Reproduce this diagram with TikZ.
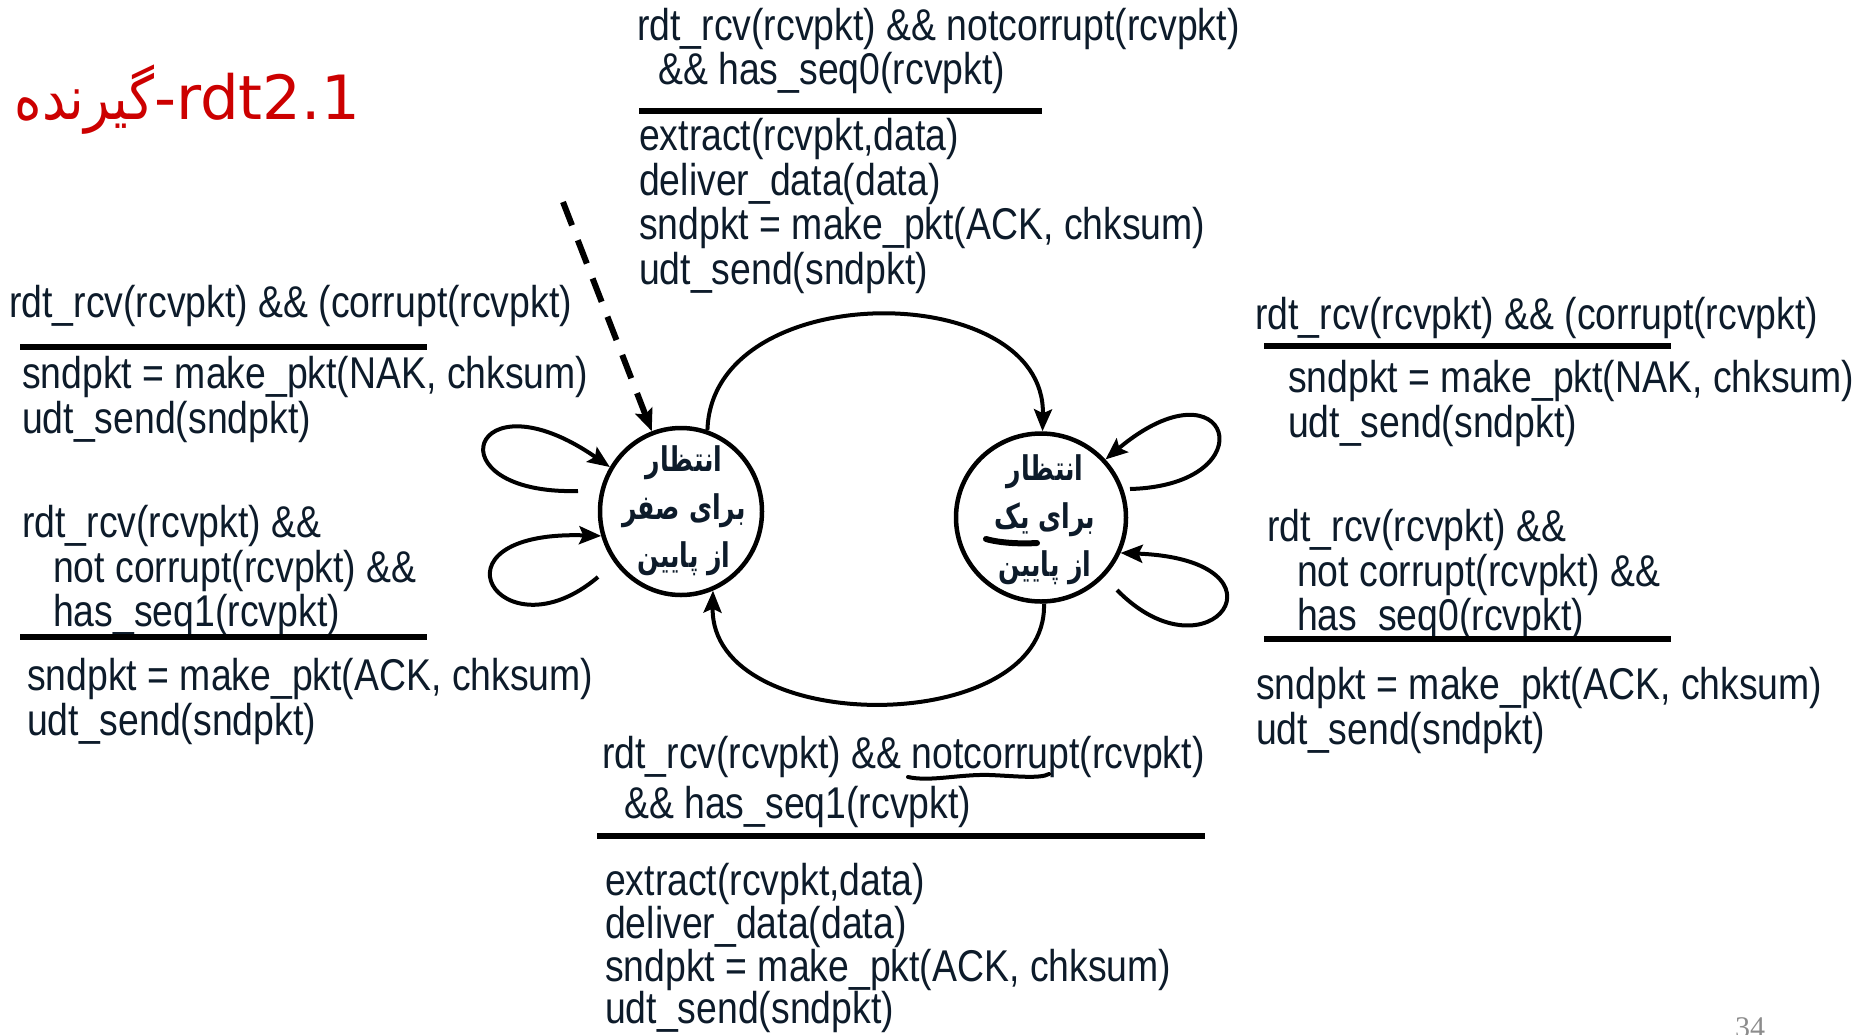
\documentclass[tikz,border=0pt]{standalone}
\usepackage{fontspec}
\setmainfont{Liberation Sans}[FakeStretch=0.84]
\newfontfamily\titlearabic[Script=Arabic,FakeStretch=0.86]{DejaVu Sans}
\newfontfamily\statefont[Script=Arabic,FakeStretch=0.74]{DejaVu Sans}
\newfontfamily\titlefont{DejaVu Sans}
\newfontfamily\pagefont{Liberation Serif}
\TeXXeTstate=1
\usetikzlibrary{arrows.meta,shapes.geometric}

\definecolor{ink}{RGB}{13,27,42}
\definecolor{titlered}{RGB}{204,0,0}
\definecolor{pagegray}{RGB}{140,140,140}

\tikzset{
  lbl/.style={anchor=base west, inner sep=0pt, text=ink, yshift=-3pt,
    font=\fontsize{44.5}{44.6}\selectfont},
  bar/.style={line width=6pt},
  state/.style={draw, ellipse, line width=4.5pt, inner sep=0pt},
  statetext/.style={align=center, inner sep=0pt, text=ink,
    font=\statefont\bfseries\fontsize{34}{48}\selectfont},
  edge/.style={line width=4pt, -{Stealth[length=22pt,width=18pt,inset=4pt]}},
  initedge/.style={line width=6pt, dash pattern=on 25pt off 16pt,
    -{Stealth[length=22pt,width=18pt,inset=4pt]}},
  handmark/.style={line width=6pt, line cap=round}
}

\begin{document}
\begin{tikzpicture}[x=1pt,y=-1pt]
\fill[white] (0,0) rectangle (1856,1034);
\useasboundingbox (0,0) rectangle (1856,1034);

% title
\node[anchor=base east, inner sep=0pt, text=titlered] (title) at (360,119)
  {{\titlearabic\fontsize{61}{61}\selectfont\beginR گیرنده\endR}{\titlefont\fontsize{61}{61}\selectfont -rdt2.1}};

% states
\node[state, minimum width=162pt, minimum height=167pt] (s0) at (681,511.5) {};
\node[state, minimum width=170pt, minimum height=168pt] (s1) at (1041,517.5) {};
\node[statetext] (s0t) at (684,511)
  {\beginR انتظار\endR\\ \beginR برای صفر\endR\\ \beginR از پایین\endR};
\node[statetext] (s1t) at (1045,520)
  {\beginR انتظار\endR\\ \beginR برای یک\endR\\ \beginR از پایین\endR};

% hand-drawn mark under the second line of s1
\draw[handmark] (986,539) .. controls (1000,543) and (1020,544) .. (1037,543);

% initial transition
\coordinate (init) at (563,202);
\draw[initedge] (init) -- (s0.110);

% s0 <-> s1
\draw[edge] (s0.72) .. controls (712,276) and (1046,278) .. (s1.89);
\draw[edge] (s1.-88) .. controls (1048,738) and (710,738) .. (s0.-68);

% self loops
\coordinate (l0a) at (578,491);
\coordinate (l0b) at (598,577);
\coordinate (l1a) at (1130,489);
\coordinate (l1b) at (1117,590);
\draw[edge] (l0a) .. controls (430,495) and (470,370) .. (s0.148);
\draw[edge] (l0b) .. controls (500,660) and (420,530) .. (s0.197);
\draw[edge] (l1a) .. controls (1270,485) and (1230,355) .. (s1.42);
\draw[edge] (l1b) .. controls (1210,685) and (1300,560) .. (s1.-24);

% top label: s0 -> s1
\node[lbl] (ta) at (637,37) {rdt\_rcv(rcvpkt) \&\& notcorrupt(rcvpkt)};
\node[lbl] (tb) at (658,81) {\&\& has\_seq0(rcvpkt)};
\draw[bar] (639,111) -- (1042,111);
\node[lbl] (tc) at (639,147) {extract(rcvpkt,data)};
\node[lbl] (td) at (639,192) {deliver\_data(data)};
\node[lbl] (te) at (639,236) {sndpkt = make\_pkt(ACK, chksum)};
\node[lbl] (tf) at (639,281) {udt\_send(sndpkt)};

% left upper loop label
\node[lbl] (la) at (9,314) {rdt\_rcv(rcvpkt) \&\& (corrupt(rcvpkt)};
\draw[bar] (20,347) -- (427,347);
\node[lbl] (lb) at (22,385) {sndpkt = make\_pkt(NAK, chksum)};
\node[lbl] (lc) at (22,430) {udt\_send(sndpkt)};

% left lower loop label
\node[lbl] (ld) at (22,534) {rdt\_rcv(rcvpkt) \&\&};
\node[lbl] (le) at (53,579) {not corrupt(rcvpkt) \&\&};
\node[lbl] (lf) at (53,623) {has\_seq1(rcvpkt)};
\draw[bar] (20,637) -- (427,637);
\node[lbl] (lg) at (27,687) {sndpkt = make\_pkt(ACK, chksum)};
\node[lbl] (lh) at (27,732) {udt\_send(sndpkt)};

% right upper loop label
\node[lbl] (ra) at (1255,326) {rdt\_rcv(rcvpkt) \&\& (corrupt(rcvpkt)};
\draw[bar] (1264,346) -- (1671,346);
\node[lbl] (rb) at (1288,389) {sndpkt = make\_pkt(NAK, chksum)};
\node[lbl] (rc) at (1288,434) {udt\_send(sndpkt)};

% right lower loop label
\node[lbl] (rd) at (1267,538) {rdt\_rcv(rcvpkt) \&\&};
\node[lbl] (re) at (1297,583) {not corrupt(rcvpkt) \&\&};
\node[lbl] (rf) at (1297,627) {has\_seq0(rcvpkt)};
\draw[bar] (1264,639) -- (1671,639);
\node[lbl] (rg) at (1256,696) {sndpkt = make\_pkt(ACK, chksum)};
\node[lbl] (rh) at (1256,741) {udt\_send(sndpkt)};

% bottom label: s1 -> s0
\node[lbl] (ba) at (602,765) {rdt\_rcv(rcvpkt) \&\& notcorrupt(rcvpkt)};
\node[lbl] (bb) at (624,815) {\&\& has\_seq1(rcvpkt)};
\draw[bar] (597,836) -- (1205,836);
\node[lbl] (bc) at (605,892) {extract(rcvpkt,data)};
\node[lbl] (bd) at (605,935) {deliver\_data(data)};
\node[lbl] (be) at (605,978) {sndpkt = make\_pkt(ACK, chksum)};
\node[lbl] (bf) at (605,1020) {udt\_send(sndpkt)};

% hand-drawn underline
\draw[line width=4pt, line cap=round] (908,777) .. controls (930,782) and (960,774) .. (990,775)
  .. controls (1015,776) and (1040,779) .. (1049,774);

% page number
\node[anchor=base, inner sep=0pt, text=pagegray, font=\pagefont\fontsize{30}{30}\selectfont] (pg) at (1750,1037) {34};
\end{tikzpicture}
\end{document}
